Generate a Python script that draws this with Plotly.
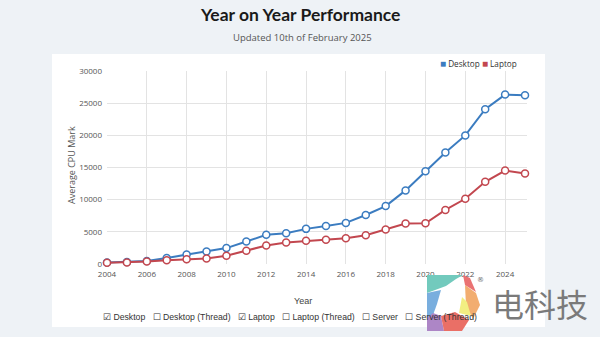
import plotly.graph_objects as go

years = list(range(2004, 2026))
desktop = [250, 300, 450, 950, 1480, 1950, 2470, 3490, 4530, 4790, 5460, 5920, 6390,
           7620, 9010, 11440, 14420, 17320, 19990, 24060, 26330, 26220]
laptop = [180, 250, 380, 600, 750, 870, 1280, 2060, 2880, 3340, 3600, 3760, 4020,
          4480, 5350, 6280, 6340, 8400, 10140, 12770, 14530, 14070]
y_ticks = [0, 5000, 10000, 15000, 20000, 25000, 30000]
x_ticks = list(range(2004, 2025, 2))

BLUE = "#3b7cc0"
RED = "#c2474f"

L, R, T, B = 107, 73, 71, 73
W, H = 600 - L - R, 337 - T - B


def P(x, y):
    return (x - L) / W, (337 - B - y) / H


def poly(pts):
    s = ""
    for i, (x, y) in enumerate(pts):
        px, py = P(x, y)
        s += ("M" if i == 0 else "L") + f"{px:.4f},{py:.4f} "
    return s + "Z"


fig = go.Figure()
fig.add_trace(go.Scatter(x=years, y=desktop, mode="lines+markers", name="Desktop",
                         line=dict(color=BLUE, width=2),
                         marker=dict(symbol="circle", size=7, color="white",
                                     line=dict(color=BLUE, width=1.5)),
                         cliponaxis=False))
fig.add_trace(go.Scatter(x=years, y=laptop, mode="lines+markers", name="Laptop",
                         line=dict(color=RED, width=2),
                         marker=dict(symbol="circle", size=7, color="white",
                                     line=dict(color=RED, width=1.5)),
                         cliponaxis=False))

shapes = []
# white panel
x0, y0 = P(52, 327)
x1, y1 = P(545, 54)
shapes.append(dict(type="rect", xref="paper", yref="paper", x0=x0, y0=y0, x1=x1, y1=y1,
                   fillcolor="white", line=dict(width=0), layer="below"))

# watermark logo approximation
logo = [
    ("#72cabd", [(427, 275), (463, 275), (456, 279), (446, 286), (427, 293)]),
    ("#79aede", [(427, 293), (441, 290), (437, 304), (433, 315), (427, 318)]),
    ("#ad86c6", [(427, 318), (433, 313), (441, 316), (444, 331), (427, 331)]),
    ("#ea6f66", [(441, 316), (455, 312), (469, 320), (462, 331), (444, 331)]),
    ("#f2ad70", [(465, 285), (476, 293), (480, 305), (473, 319), (466, 306)]),
    ("#ea7272", [(463, 275), (470, 278), (476, 292), (465, 285)]),
    ("#f2ee82", [(462, 297), (467, 302), (471, 316), (459, 313)]),
]
for col, pts in logo:
    shapes.append(dict(type="path", xref="paper", yref="paper", path=poly(pts),
                       fillcolor=col, line=dict(width=0), opacity=1, layer="above"))

ann = []
tx, ty = P(300, 14)
ann.append(dict(text="<b>Year on Year Performance</b>", x=tx, y=ty, xref="paper", yref="paper",
                showarrow=False, font=dict(family="Lato", size=17.5, color="#1a1a1a"),
                xanchor="center", yanchor="middle"))
tx, ty = P(302, 37)
ann.append(dict(text="Updated 10th of February 2025", x=tx, y=ty, xref="paper", yref="paper",
                showarrow=False, font=dict(family="Open Sans", size=9.5, color="#555"),
                xanchor="center", yanchor="middle"))
tx, ty = P(519, 63)
ann.append(dict(text=f"<span style='color:{BLUE};font-size:10px'>■</span> Desktop "
                     f"<span style='color:{RED};font-size:10px'>■</span> Laptop",
                x=tx, y=ty, xref="paper", yref="paper", showarrow=False,
                font=dict(family="Open Sans", size=8.2, color="#333"),
                xanchor="right", yanchor="middle"))
tx, ty = P(303, 301)
ann.append(dict(text="Year", x=tx, y=ty, xref="paper", yref="paper", showarrow=False,
                font=dict(family="Liberation Sans", size=9, color="#444"),
                xanchor="center", yanchor="middle"))
tx, ty = P(71, 165)
ann.append(dict(text="Average CPU Mark", x=tx, y=ty, xref="paper", yref="paper", showarrow=False,
                textangle=-90, font=dict(family="Open Sans", size=9, color="#555"),
                xanchor="center", yanchor="middle"))
tx, ty = P(101, 317)
ann.append(dict(text="☑ Desktop &nbsp; ☐ Desktop (Thread) &nbsp; ☑ Laptop &nbsp; ☐ Laptop (Thread) &nbsp; ☐ Server &nbsp; ☐ Server (Thread)",
                x=tx, y=ty, xref="paper", yref="paper", showarrow=False,
                font=dict(family="Liberation Sans", size=8.7, color="#333"),
                xanchor="left", yanchor="middle"))
tx, ty = P(540, 303)
ann.append(dict(text="电科技", x=tx, y=ty, xref="paper", yref="paper", showarrow=False,
                font=dict(family="Noto Sans CJK SC", size=32, color="#7a7a7a"),
                xanchor="center", yanchor="middle"))
tx, ty = P(480, 280)
ann.append(dict(text="®", x=tx, y=ty, xref="paper", yref="paper", showarrow=False,
                font=dict(family="DejaVu Sans", size=7, color="#666"),
                xanchor="center", yanchor="middle"))

fig.update_layout(
    width=600, height=337,
    margin=dict(l=L, r=R, t=T, b=B),
    paper_bgcolor="#eef2f6", plot_bgcolor="white",
    showlegend=False,
    shapes=shapes, annotations=ann,
    xaxis=dict(range=[2004, 2025.1], tickvals=x_ticks, ticktext=[str(v) for v in x_ticks],
               showgrid=True, gridcolor="#e3e3e3", gridwidth=1, zeroline=False,
               showline=False, ticks="", ticklen=0, ticklabelstandoff=4,
               tickfont=dict(family="Open Sans", size=8, color="#555")),
    yaxis=dict(range=[0, 30000], tickvals=y_ticks, ticktext=[str(v) for v in y_ticks],
               showgrid=True, gridcolor="#e3e3e3", gridwidth=1, zeroline=False,
               showline=False, ticks="", ticklabelstandoff=4,
               tickfont=dict(family="Open Sans", size=8, color="#555")),
)

fig.write_html("out.html")
